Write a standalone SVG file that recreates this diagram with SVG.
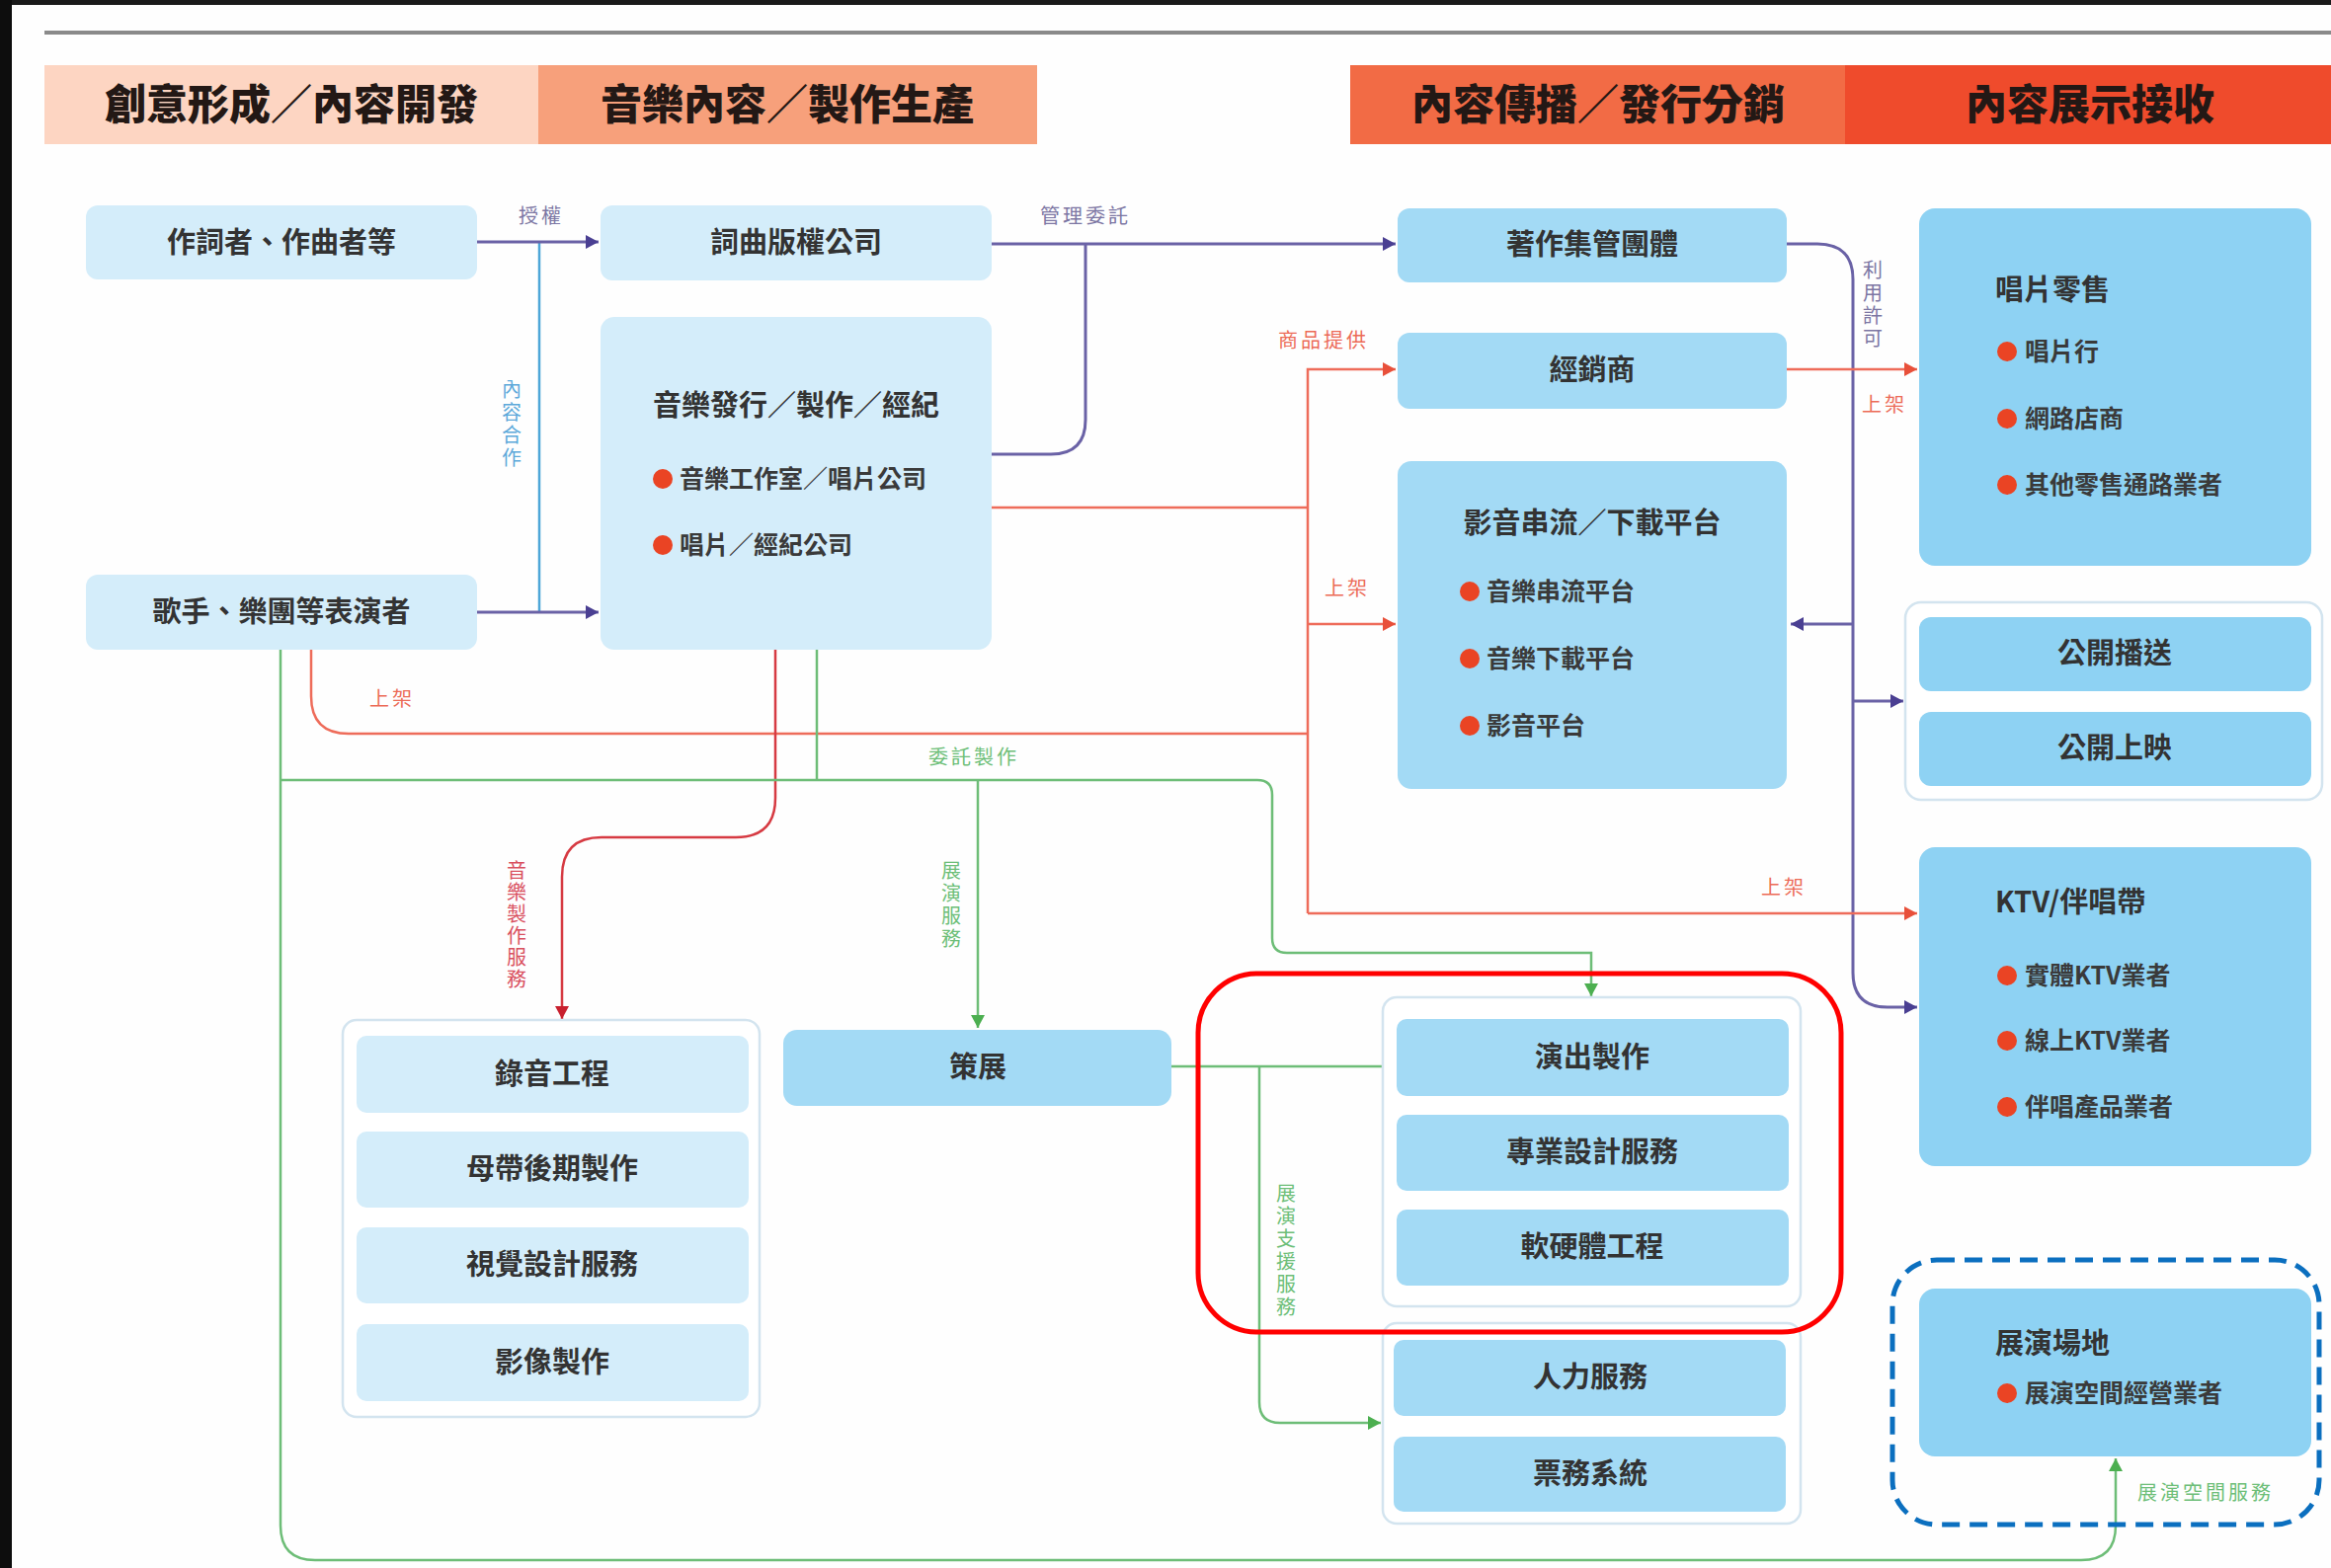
<svg xmlns="http://www.w3.org/2000/svg" width="2360" height="1588" viewBox="0 0 2360 1588">
<style>
text{font-family:"Noto Sans CJK TC","Noto Sans CJK SC",sans-serif;}
.hd{font-size:42px;font-weight:900;fill:#231815;text-anchor:middle;}
.t{font-size:29px;font-weight:700;fill:#333;text-anchor:middle;}
.tl{font-size:29px;font-weight:700;fill:#333;}
.b{font-size:25px;font-weight:700;fill:#3a3a3a;}
.lt{fill:#D4EDFA;}
.md{fill:#A3DAF5;}
.dk{fill:#8ED2F3;}
.box{fill:#ffffff;stroke:#D3E4EF;stroke-width:2.5;}
.dot{fill:#EA4424;}
.lp{font-size:20px;fill:#7C76A3;letter-spacing:3px;}
.lr{font-size:20px;fill:#EC6B57;letter-spacing:3px;}
.lg{font-size:20px;fill:#6DBE78;letter-spacing:3px;}
.lb{font-size:20px;fill:#5DA9DA;letter-spacing:3px;}
.ld{font-size:20px;fill:#D9505F;letter-spacing:2px;}
.v{writing-mode:vertical-rl;}
.cp{fill:none;stroke:#6A62A6;stroke-width:3;}
.cr{fill:none;stroke:#EE6C5A;stroke-width:2.5;}
.cd{fill:none;stroke:#D63A42;stroke-width:2.5;}
.cg{fill:none;stroke:#6DBD77;stroke-width:2.5;}
.cb{fill:none;stroke:#4DA6D8;stroke-width:2.5;}
</style>
<defs>
<marker id="ap" markerWidth="14" markerHeight="14" refX="13" refY="7" orient="auto" markerUnits="userSpaceOnUse"><path d="M0,0 L13,7 L0,14 z" fill="#4A3F92"/></marker>
<marker id="ar" markerWidth="14" markerHeight="14" refX="13" refY="7" orient="auto" markerUnits="userSpaceOnUse"><path d="M0,0 L13,7 L0,14 z" fill="#E8503A"/></marker>
<marker id="ad" markerWidth="14" markerHeight="14" refX="13" refY="7" orient="auto" markerUnits="userSpaceOnUse"><path d="M0,0 L13,7 L0,14 z" fill="#C8202E"/></marker>
<marker id="ag" markerWidth="14" markerHeight="14" refX="13" refY="7" orient="auto" markerUnits="userSpaceOnUse"><path d="M0,0 L13,7 L0,14 z" fill="#4CAF50"/></marker>
</defs>
<rect x="0" y="0" width="2360" height="1588" fill="#FEFEFE"/>
<rect x="0" y="0" width="2360" height="5" fill="#1a1a1a"/>
<rect x="0" y="0" width="12" height="1588" fill="#0d0d0d"/>
<line x1="45" y1="33" x2="2360" y2="33" stroke="#8a8a8a" stroke-width="4"/>

<g id="headers">
<rect x="45" y="66" width="500" height="80" fill="#FDD5C2"/>
<rect x="545" y="66" width="505" height="80" fill="#F7A07B"/>
<rect x="1367" y="66" width="501" height="80" fill="#F26B45"/>
<rect x="1868" y="66" width="492" height="80" fill="#EF4B2C"/>
<text class="hd" x="295" y="121">創意形成／內容開發</text>
<text class="hd" x="797" y="121">音樂內容／製作生產</text>
<text class="hd" x="1618" y="121">內容傳播／發行分銷</text>
<text class="hd" x="2116" y="121">內容展示接收</text>
</g>

<g id="connectors">
<path class="cb" d="M546,245 V620"/>
<path class="cp" d="M483,245 H606" marker-end="url(#ap)"/>
<path class="cp" d="M483,620 H606" marker-end="url(#ap)"/>
<path class="cp" d="M1004,247 H1413" marker-end="url(#ap)"/>
<path class="cp" d="M1004,460 H1064 Q1099,460 1099,425 V247"/>
<path class="cp" d="M1809,247 H1840 Q1876,247 1876,283 V985 Q1876,1020 1911,1020 H1941" marker-end="url(#ap)"/>
<path class="cp" d="M1876,632 H1813" marker-end="url(#ap)"/>
<path class="cp" d="M1876,710 H1927" marker-end="url(#ap)"/>
<path class="cr" d="M1004,514 H1324"/>
<path class="cr" d="M1324,925 V374 H1413" marker-end="url(#ar)"/>
<path class="cr" d="M1324,632 H1413" marker-end="url(#ar)"/>
<path class="cr" d="M1324,925 H1941" marker-end="url(#ar)"/>
<path class="cr" d="M1809,374 H1941" marker-end="url(#ar)"/>
<path class="cr" d="M315,658 V705 Q315,743 353,743 H1324"/>
<path class="cd" d="M785,658 V808 Q785,848 745,848 H609 Q569,848 569,888 V1032" marker-end="url(#ad)"/>
<path class="cg" d="M284,658 V1545 Q284,1580 319,1580 H2107 Q2142,1580 2142,1545 V1477" marker-end="url(#ag)"/>
<path class="cg" d="M284,790 H1273 Q1288,790 1288,805 V950 Q1288,965 1303,965 H1611 V1009" marker-end="url(#ag)"/>
<path class="cg" d="M827,658 V790"/>
<path class="cg" d="M990,790 V1041" marker-end="url(#ag)"/>
<path class="cg" d="M1186,1080 H1399"/>
<path class="cg" d="M1275,1080 V1420 Q1275,1441 1296,1441 H1398" marker-end="url(#ag)"/>
<text class="lp" x="548" y="226" text-anchor="middle">授權</text>
<text class="lp" x="1099" y="226" text-anchor="middle">管理委託</text>
<text class="lb v" x="518" y="384">內容合作</text>
<text class="lp v" x="1896" y="263">利用許可</text>
<text class="lr" x="1340" y="352" text-anchor="middle">商品提供</text>
<text class="lr" x="1364" y="603" text-anchor="middle">上架</text>
<text class="lr" x="1908" y="417" text-anchor="middle">上架</text>
<text class="lr" x="1806" y="906" text-anchor="middle">上架</text>
<text class="lr" x="397" y="715" text-anchor="middle">上架</text>
<text class="lg" x="986" y="774" text-anchor="middle">委託製作</text>
<text class="ld v" x="523" y="871">音樂製作服務</text>
<text class="lg v" x="963" y="871">展演服務</text>
<text class="lg v" x="1302" y="1198">展演支援服務</text>
<text class="lg" x="2233" y="1519" text-anchor="middle">展演空間服務</text>
</g>

<g id="n-lyricist"><rect class="lt" x="87" y="208" width="396" height="75" rx="12"/><text class="t" x="285" y="256">作詞者、作曲者等</text></g>
<g id="n-performer"><rect class="lt" x="87" y="582" width="396" height="76" rx="12"/><text class="t" x="285" y="630">歌手、樂團等表演者</text></g>
<g id="n-publisher"><rect class="lt" x="608" y="208" width="396" height="76" rx="12"/><text class="t" x="806" y="256">詞曲版權公司</text></g>
<g id="n-label"><rect class="lt" x="608" y="321" width="396" height="337" rx="14"/><text class="t" x="806" y="421">音樂發行／製作／經紀</text>
<circle class="dot" cx="671" cy="485" r="10"/><text class="b" x="688" y="494">音樂工作室／唱片公司</text>
<circle class="dot" cx="671" cy="552" r="10"/><text class="b" x="688" y="561">唱片／經紀公司</text></g>
<g id="n-cmo"><rect class="md" x="1415" y="211" width="394" height="75" rx="12"/><text class="t" x="1612" y="258">著作集管團體</text></g>
<g id="n-distributor"><rect class="md" x="1415" y="337" width="394" height="77" rx="12"/><text class="t" x="1612" y="385">經銷商</text></g>
<g id="n-streaming"><rect class="md" x="1415" y="467" width="394" height="332" rx="14"/><text class="t" x="1612" y="540">影音串流／下載平台</text>
<circle class="dot" cx="1488" cy="599" r="10"/><text class="b" x="1505" y="608">音樂串流平台</text>
<circle class="dot" cx="1488" cy="667" r="10"/><text class="b" x="1505" y="676">音樂下載平台</text>
<circle class="dot" cx="1488" cy="735" r="10"/><text class="b" x="1505" y="744">影音平台</text></g>
<g id="n-retail"><rect class="dk" x="1943" y="211" width="397" height="362" rx="16"/><text class="tl" x="2020" y="304">唱片零售</text>
<circle class="dot" cx="2032" cy="356" r="10"/><text class="b" x="2050" y="365">唱片行</text>
<circle class="dot" cx="2032" cy="424" r="10"/><text class="b" x="2050" y="433">網路店商</text>
<circle class="dot" cx="2032" cy="491" r="10"/><text class="b" x="2050" y="500">其他零售通路業者</text></g>
<g id="n-public"><rect class="box" x="1929" y="610" width="422" height="200" rx="16"/>
<rect class="dk" x="1943" y="625" width="397" height="75" rx="12"/><text class="t" x="2141" y="672">公開播送</text>
<rect class="dk" x="1943" y="721" width="397" height="75" rx="12"/><text class="t" x="2141" y="768">公開上映</text></g>
<g id="n-ktv"><rect class="dk" x="1943" y="858" width="397" height="323" rx="16"/><text class="tl" x="2020" y="924">KTV/伴唱帶</text>
<circle class="dot" cx="2032" cy="988" r="10"/><text class="b" x="2050" y="997">實體KTV業者</text>
<circle class="dot" cx="2032" cy="1054" r="10"/><text class="b" x="2050" y="1063">線上KTV業者</text>
<circle class="dot" cx="2032" cy="1121" r="10"/><text class="b" x="2050" y="1130">伴唱產品業者</text></g>
<g id="n-venue"><rect class="dk" x="1943" y="1305" width="397" height="170" rx="16"/><text class="tl" x="2020" y="1371">展演場地</text>
<circle class="dot" cx="2032" cy="1411" r="10"/><text class="b" x="2050" y="1420">展演空間經營業者</text></g>
<g id="n-production"><rect class="box" x="347" y="1033" width="422" height="402" rx="14"/>
<rect class="lt" x="361" y="1049" width="397" height="78" rx="10"/><text class="t" x="559" y="1098">錄音工程</text>
<rect class="lt" x="361" y="1146" width="397" height="77" rx="10"/><text class="t" x="559" y="1194">母帶後期製作</text>
<rect class="lt" x="361" y="1243" width="397" height="77" rx="10"/><text class="t" x="559" y="1291">視覺設計服務</text>
<rect class="lt" x="361" y="1341" width="397" height="78" rx="10"/><text class="t" x="559" y="1390">影像製作</text></g>
<g id="n-curation"><rect class="md" x="793" y="1043" width="393" height="77" rx="14"/><text class="t" x="990" y="1091">策展</text></g>
<g id="n-performance"><rect class="box" x="1400" y="1010" width="423" height="313" rx="14"/>
<rect class="md" x="1414" y="1032" width="397" height="78" rx="10"/><text class="t" x="1612" y="1081">演出製作</text>
<rect class="md" x="1414" y="1129" width="397" height="77" rx="10"/><text class="t" x="1612" y="1177">專業設計服務</text>
<rect class="md" x="1414" y="1225" width="397" height="77" rx="10"/><text class="t" x="1612" y="1273">軟硬體工程</text></g>
<g id="n-support"><rect class="box" x="1400" y="1340" width="423" height="203" rx="14"/>
<rect class="md" x="1411" y="1357" width="397" height="77" rx="10"/><text class="t" x="1610" y="1405">人力服務</text>
<rect class="md" x="1411" y="1455" width="397" height="76" rx="10"/><text class="t" x="1610" y="1503">票務系統</text></g>

<g id="highlights">
<rect x="1213" y="986" width="651" height="363" rx="60" fill="none" stroke="#FF0000" stroke-width="5"/>
<rect x="1916" y="1276" width="432" height="268" rx="45" fill="none" stroke="#0B6FBF" stroke-width="5" stroke-dasharray="18 10"/>
</g>
</svg>
